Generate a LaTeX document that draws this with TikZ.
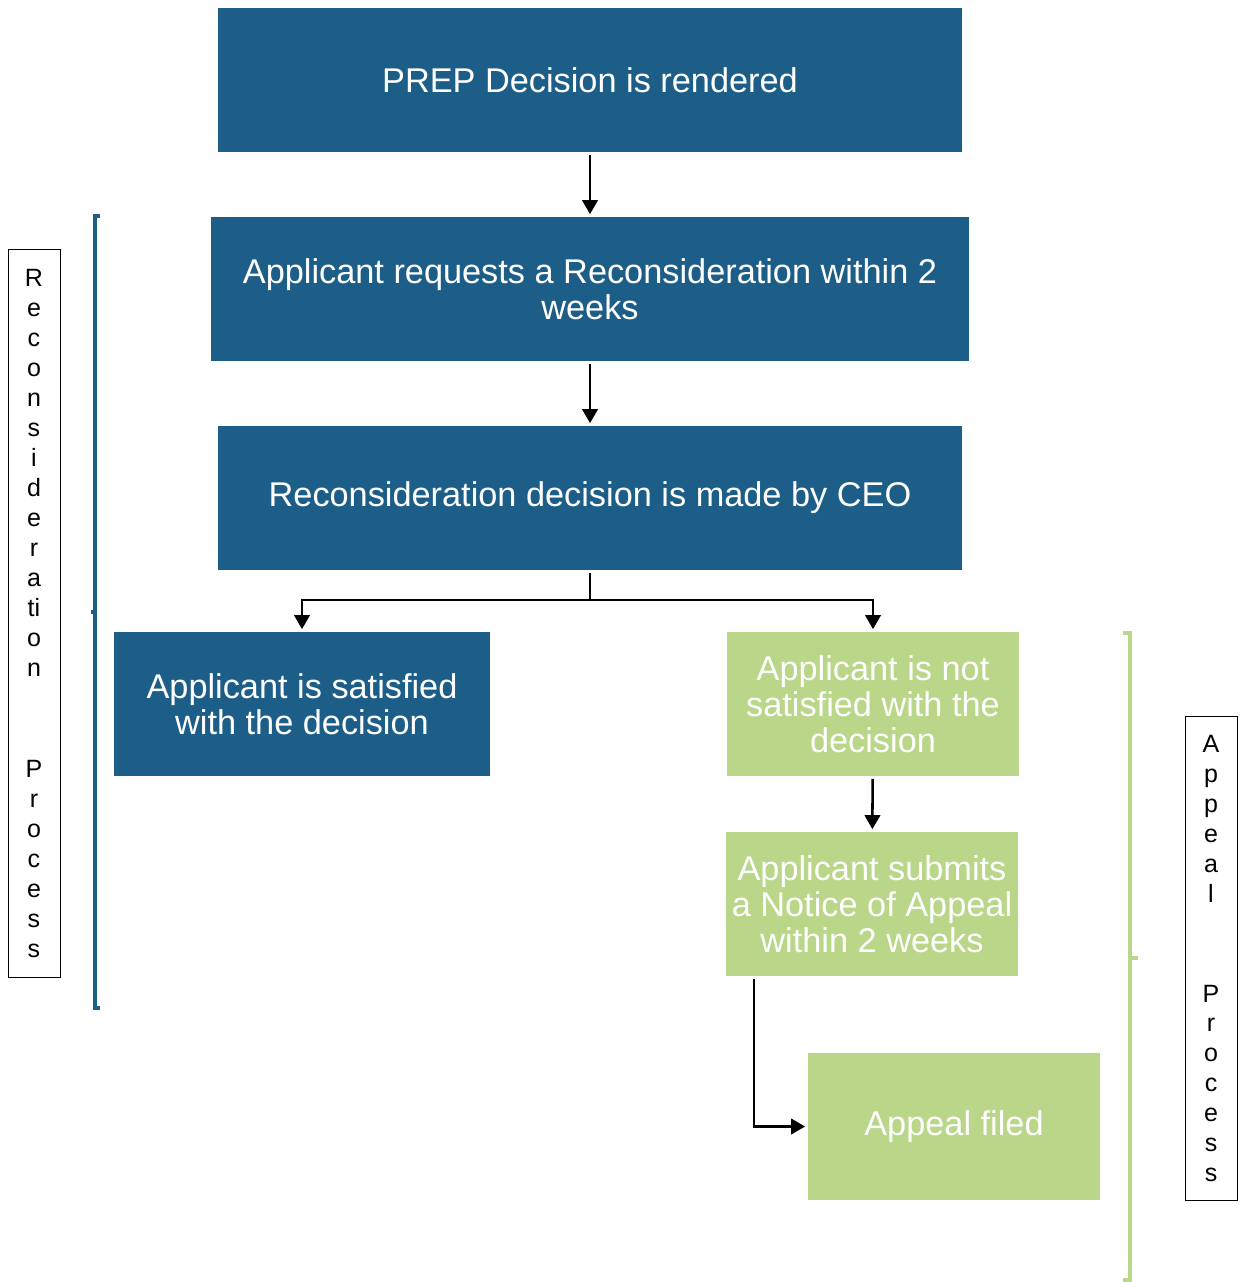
\documentclass[tikz,border=0pt]{standalone}
\usepackage{fontspec}
\setmainfont{Liberation Sans}
\usetikzlibrary{arrows.meta}
\definecolor{prepblue}{RGB}{29,94,136}
\definecolor{prepgreen}{RGB}{185,214,137}
\begin{document}
\begin{tikzpicture}[x=0.025cm, y=-0.025cm,
    stage/.style={fill=prepblue, text=white, inner sep=0pt, outer sep=0pt, align=center,
      minimum height=3.6cm, font=\fontsize{24.4}{25.6}\selectfont},
    appeal/.style={stage, fill=prepgreen},
    flow/.style={-{Triangle[width=11pt,length=10pt]}, line width=1.8pt, shorten >=2pt},
    side/.style={draw, line width=0.7pt, inner sep=0pt, minimum width=1.3cm, align=center,
      font=\fontsize{17.8}{21.3}\selectfont},
    brace/.style={line width=3.4pt}]
    \useasboundingbox (0,0) rectangle (1240,1282);

    \node[stage, minimum width=18.6cm] (prep) at (590,80) {PREP Decision is rendered};
    \node[stage, minimum width=18.95cm] (request) at (590,289) {Applicant requests a Reconsideration within 2\\weeks};
    \node[stage, minimum width=18.6cm] (ceo) at (590,498) {Reconsideration decision is made by CEO};
    \node[stage, minimum width=9.4cm] (happy) at (302,704) {Applicant is satisfied\\with the decision};
    \node[appeal, minimum width=7.3cm] (unhappy) at (873,704) {Applicant is not\\satisfied with the\\decision};
    \node[appeal, minimum width=7.3cm] (notice) at (872,904) {Applicant submits\\a Notice of Appeal\\within 2 weeks};
    \node[appeal, minimum width=7.3cm, minimum height=3.675cm] (filed) at (954,1126.5) {Appeal filed};

    \coordinate (split) at (590,600);
    \coordinate (bend) at (754,1126.5);

    \draw[flow, shorten <=2pt] (prep) -- (request);
    \draw[flow, shorten <=2pt] (request) -- (ceo);
    \draw[line width=1.8pt, shorten <=2pt] (ceo) -- (split);
    \draw[flow] (split) -| (happy);
    \draw[flow] (split) -| (unhappy);
    \draw[flow, shorten <=2pt] (unhappy) -- (notice);
    \draw[flow, shorten <=2pt] (notice.south -| bend) -- (bend) -- (filed);

    \draw[prepblue, brace] (100,216) -- (95,216) -- (95,1008) -- (100,1008);
    \draw[prepblue, brace] (95,612) -- (91,612);
    \draw[prepgreen, brace] (1123,633) -- (1130,633) -- (1130,1280) -- (1123,1280);
    \draw[prepgreen, brace] (1130,958) -- (1138,958);

    \node[side, minimum height=18.175cm] (reconlabel) at (34,613.5)
      {R\\e\\c\\o\\n\\s\\i\\d\\e\\r\\a\\ti\\o\\n\\[1.78cm]P\\r\\o\\c\\e\\s\\s};
    \node[side, minimum height=12.075cm] (appeallabel) at (1211,958.5)
      {A\\p\\p\\e\\a\\l\\[1.75cm]P\\r\\o\\c\\e\\s\\s};
  \end{tikzpicture}
\end{document}
